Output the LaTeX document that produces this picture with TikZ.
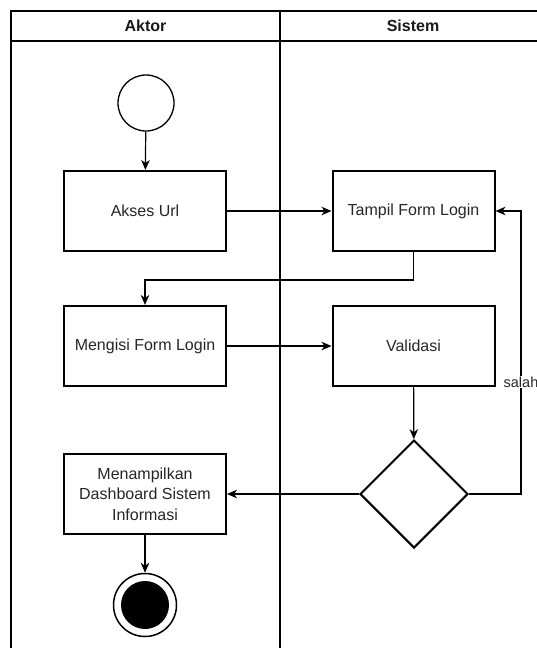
\documentclass[tikz,border=0pt]{standalone}
\usepackage{fontspec}
\setmainfont{Liberation Sans}
\usetikzlibrary{arrows.meta,shapes.geometric}

\tikzset{
  lane/.style={line width=1.3pt, draw=black},
  actbox/.style={draw=black, line width=2pt, minimum width=162pt, minimum height=80pt,
    inner sep=2pt, align=center, font=\fontsize{16}{20.5}\selectfont, text=black!85},
  decision/.style={diamond, draw=black, line width=2pt, minimum width=108pt,
    minimum height=108pt, inner sep=0pt, aspect=1},
  flow/.style={line width=1.2pt, -{Stealth[length=10pt,width=8.5pt,inset=3pt]}},
  lanetitle/.style={font=\bfseries\fontsize{16}{19}\selectfont, text=black!90},
  edgelabel/.style={fill=white, inner sep=1pt, font=\fontsize{14.5}{17}\selectfont, text=black!85}
}

\begin{document}
\begin{tikzpicture}[x=1pt, y=-1pt]
  \useasboundingbox (0,0) rectangle (537,648);
  \clip (0,0) rectangle (537,648);

  % swimlanes
  \draw[lane] (11,700) -- (11,11) -- (560,11);
  \draw[lane] (11,41) -- (560,41);
  \draw[lane] (280,11) -- (280,700);
  \node[lanetitle] (tAktor) at (145.5,26) {Aktor};
  \node[lanetitle] (tSistem) at (413,26) {Sistem};

  % actions
  \node[circle, draw=black, line width=1.3pt, minimum size=56pt, inner sep=0pt] (start) at (146,103) {};
  \node[actbox] (akses) at (145,211) {Akses Url};
  \node[actbox] (tampil) at (413.5,211) {Tampil Form Login};
  \node[actbox] (isi) at (145,346) {Mengisi Form Login};
  \node[actbox] (valid) at (413.5,346) {Validasi};
  \node[decision] (cek) at (414,494) {};
  \node[actbox] (dash) at (145,494) {Menampilkan\\Dashboard Sistem\\Informasi};
  \node[circle, draw=black, line width=1.5pt, minimum size=63pt, inner sep=0pt] (stop) at (145,605) {};
  \node[circle, fill=black, minimum size=48pt, inner sep=0pt] (stopdot) at (145,605) {};
  \coordinate (turn) at (521,494);
  \coordinate (back) at (turn |- tampil.east);

  % flows
  \draw[flow] (start) -- (akses);
  \draw[flow] (akses) -- (tampil);
  \draw[flow] (tampil.south) |- (145,280) -- (isi.north);
  \draw[flow] (isi) -- (valid);
  \draw[flow] (valid) -- (cek);
  \draw[flow] (cek) -- (dash);
  \draw[flow] (cek.east) -- (turn) -- node[pos=0.396, edgelabel] (salah) {salah} (back) -- (tampil.east);
  \draw[flow] (dash) -- (stop);
\end{tikzpicture}
\end{document}
